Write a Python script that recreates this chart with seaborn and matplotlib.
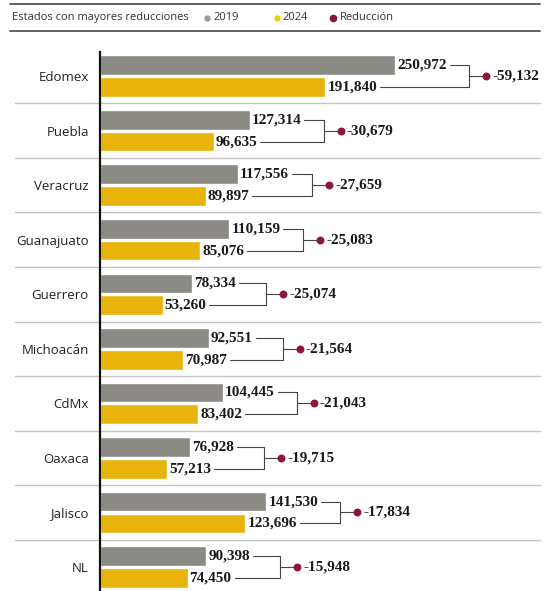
import pandas as pd
import numpy as np
import seaborn as sns
import matplotlib.pyplot as plt

# datos
estados = ['Edomex', 'Puebla', 'Veracruz', 'Guanajuato', 'Guerrero',
           'Michoacán', 'CdMx', 'Oaxaca', 'Jalisco', 'NL']
v2019 = [250972, 127314, 117556, 110159, 78334, 92551, 104445, 76928, 141530, 90398]
v2024 = [191840, 96635, 89897, 85076, 53260, 70987, 83402, 57213, 123696, 74450]
reduccion = [-59132, -30679, -27659, -25083, -25074, -21564, -21043, -19715, -17834, -15948]

GRIS = '#8b8a85'
AMARILLO = '#e8b40c'
ROJO = '#8e1538'

df = pd.DataFrame({'estado': estados * 2,
                   'valor': v2019 + v2024,
                   'anio': ['2019'] * len(estados) + ['2024'] * len(estados)})

sns.set_style('white')
plt.rcParams['font.family'] = ['Open Sans', 'DejaVu Sans']

W, H = 547, 591
fig = plt.figure(figsize=(W / 100, H / 100), dpi=100)
ax = fig.add_axes([100 / W, 0, 440 / W, 1 - 45 / H])

sns.barplot(data=df, y='estado', x='valor', hue='anio', orient='h',
            palette=[GRIS, AMARILLO], width=0.8, gap=0.1,
            saturation=1, legend=False, ax=ax)

xmax = 374330
ax.set_xlim(0, xmax)
ax.set_ylim(9.44, -0.57)
ax.set_xlabel('')
ax.set_ylabel('')
ax.set_xticks([])
for s in ['top', 'right', 'bottom']:
    ax.spines[s].set_visible(False)
ax.spines['left'].set_color('#111111')
ax.spines['left'].set_linewidth(1.6)
ax.spines['left'].set_bounds(-0.45, 9.44)
ax.tick_params(axis='y', length=0, pad=8, labelsize=9.5, labelcolor='#222222')

# separadores entre filas
for i in range(len(estados) - 1):
    ax.axhline(i + 0.5, xmin=-85 / 440, xmax=1.0, color='#c4c4c4', lw=1.0, clip_on=False)

px = xmax / 440  # unidades de datos por pixel
num_font = dict(family='Liberation Serif', fontsize=11, fontweight='bold', color='#1a1a1a')

fig.canvas.draw()
renderer = fig.canvas.get_renderer()
inv = ax.transData.inverted()

for i, (a, b, r) in enumerate(zip(v2019, v2024, reduccion)):
    ya, yb = i - 0.2, i + 0.2
    ta = ax.text(a + 2 * px, ya, f'{a:,}', va='center', ha='left', **num_font)
    tb = ax.text(b + 2 * px, yb, f'{b:,}', va='center', ha='left', **num_font)
    ea = inv.transform(ta.get_window_extent(renderer))[1][0]
    eb = inv.transform(tb.get_window_extent(renderer))[1][0]
    xv = max(a, b) + 74 * px
    ax.plot([ea + 3 * px, xv, xv, eb + 3 * px], [ya, ya, yb, yb],
            color='#444444', lw=0.8, clip_on=False)
    xd = xv + 17 * px
    ax.plot([xv, xd], [i, i], color='#444444', lw=0.8, clip_on=False)
    ax.scatter([xd], [i], s=22, color=ROJO, zorder=5, clip_on=False)
    ax.text(xd + 6 * px, i, f'{r:,}', va='center', ha='left', **num_font)

# encabezado
fig.add_artist(plt.Line2D([10 / W, 540 / W], [1 - 4 / H] * 2, color='#555555', lw=1.3))
fig.add_artist(plt.Line2D([10 / W, 540 / W], [1 - 31 / H] * 2, color='#555555', lw=1.3))
yh = 1 - 17.5 / H
fig.text(12 / W, yh, 'Estados con mayores reducciones', fontsize=8, va='center', color='#333333')
for xm, xt, c, ms, lab in [(207, 213, '#9a9a9a', 3.5, '2019'), (277, 282, '#e5d000', 3.5, '2024'),
                           (333, 340, ROJO, 4.5, 'Reducción')]:
    fig.add_artist(plt.Line2D([xm / W], [yh], marker='o', markersize=ms, color=c, lw=0))
    fig.text(xt / W, yh, lab, fontsize=8, va='center', color='#333333')

plt.savefig('out.png', dpi=100)
